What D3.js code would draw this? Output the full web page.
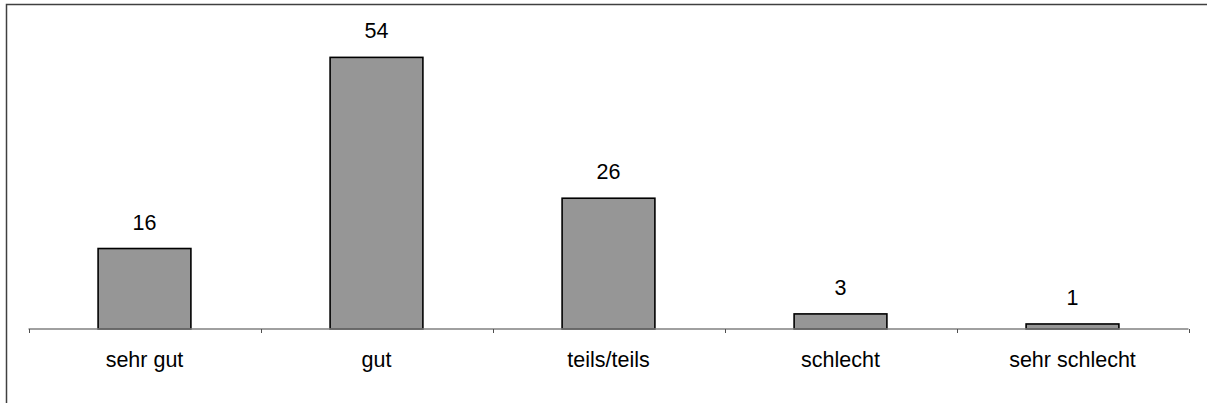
<!DOCTYPE html>
<html><head><meta charset="utf-8">
<script src="https://cdn.jsdelivr.net/npm/d3@7"></script>
<style>html,body{margin:0;padding:0;background:#fff;overflow:hidden;}svg{display:block;}</style>
</head><body>
<script>
const categories = ["sehr gut", "gut", "teils/teils", "schlecht", "sehr schlecht"];
const values = [16, 54, 26, 3, 1];

const W = 1207, H = 403;
const svg = d3.select("body").append("svg").attr("width", W).attr("height", H);

// outer frame: only the top and left edges fall inside the view
svg.append("path").attr("d", `M6.5,${H} L6.5,4.5 L${W},4.5`)
  .attr("fill", "none").attr("stroke", "#404040").attr("stroke-width", 1.5);

const x = d3.scaleBand().domain(categories).range([28.5, 1188.5]).paddingInner(0.6).paddingOuter(0.3);
const y = d3.scaleLinear().domain([0, 60]).range([329, 329 - 60 * 5.03]);

// bars
svg.selectAll("rect.bar").data(values).enter().append("rect")
  .attr("class", "bar")
  .attr("x", (d, i) => x(categories[i]))
  .attr("width", x.bandwidth())
  .attr("y", d => y(d))
  .attr("height", d => y(0) - y(d))
  .attr("fill", "#969696").attr("stroke", "#000").attr("stroke-width", 1.6);

// axis
const xStep = d3.scaleBand().domain(categories).range([28.5, 1188.5]);
const axisG = svg.append("g");
axisG.append("line").attr("x1", 28.5).attr("x2", 1188.5).attr("y1", y(0)).attr("y2", y(0))
  .attr("stroke", "#808080").attr("stroke-width", 1.5);
const tickPos = categories.map(c => xStep(c)).concat([1188.5]);
axisG.selectAll("line.tick").data(tickPos).enter().append("line")
  .attr("class", "tick")
  .attr("x1", d => Math.round(d) + 0.5).attr("x2", d => Math.round(d) + 0.5)
  .attr("y1", y(0)).attr("y2", y(0) + 4)
  .attr("stroke", "#505050").attr("stroke-width", 1);

// category labels
svg.selectAll("text.cat").data(categories).enter().append("text")
  .attr("class", "cat")
  .attr("x", d => xStep(d) + xStep.bandwidth() / 2)
  .attr("y", 367)
  .attr("text-anchor", "middle")
  .attr("font-family", "Liberation Sans, Arial, sans-serif")
  .attr("font-size", 21.5)
  .attr("fill", "#000")
  .text(d => d);

// value labels
svg.selectAll("text.val").data(values).enter().append("text")
  .attr("class", "val")
  .attr("x", (d, i) => x(categories[i]) + x.bandwidth() / 2)
  .attr("y", d => y(d) - 19)
  .attr("text-anchor", "middle")
  .attr("font-family", "Liberation Sans, Arial, sans-serif")
  .attr("font-size", 21.5)
  .attr("fill", "#000")
  .text(d => d);
</script>
</body></html>
